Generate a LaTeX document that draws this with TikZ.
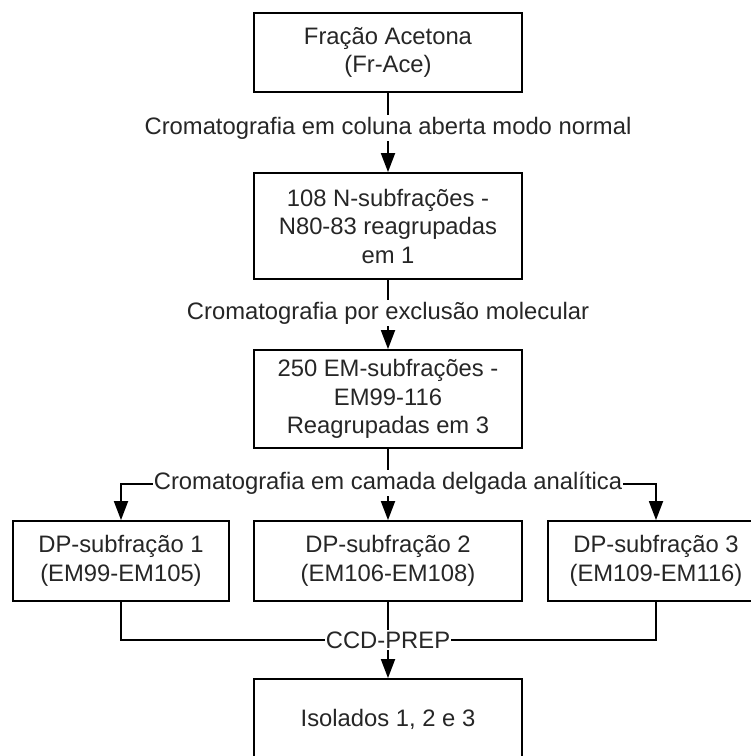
\documentclass[tikz,border=0pt]{standalone}
\usepackage{fontspec}
\setmainfont{Liberation Sans}
\usetikzlibrary{arrows.meta}
\definecolor{txt}{HTML}{262626}
\tikzset{
  box/.style={draw=black, line width=1.8pt, rectangle, align=center, text=txt,
    font=\fontsize{23.8}{28.5}\selectfont, inner sep=0pt},
  lbl/.style={fill=white, text=txt, font=\fontsize{23.8}{28.5}\selectfont,
    inner xsep=1pt, inner ysep=2pt},
  conn/.style={line width=1.8pt, draw=black},
  arr/.style={conn, -{Triangle[width=14pt,length=19pt]}}
}
\begin{document}
\begin{tikzpicture}[x=1pt, y=-1pt]
\useasboundingbox (0,0) rectangle (751,756);
\node[box, minimum width=268pt, minimum height=79pt] (b1) at (388,52.5) {Fração Acetona\\(Fr-Ace)};
\node[box, minimum width=268pt, minimum height=106pt] (b2) at (388,226) {108 N-subfrações -\\N80-83 reagrupadas\\em 1};
\node[box, minimum width=268pt, minimum height=98pt] (b3) at (388,399) {250 EM-subfrações -\\EM99-116\\Reagrupadas em 3};
\node[box, minimum width=216pt, minimum height=80pt] (dp1) at (121,561) {DP-subfração 1\\(EM99-EM105)};
\node[box, minimum width=268pt, minimum height=80pt] (dp2) at (388,561) {DP-subfração 2\\(EM106-EM108)};
\node[box, minimum width=216pt, minimum height=80pt] (dp3) at (656,561) {DP-subfração 3\\(EM109-EM116)};
\node[box, minimum width=268pt, minimum height=80pt] (b4) at (388,719) {Isolados 1, 2 e 3};
% connectors
\draw[arr] (b1.south) -- (b2.north);
\draw[arr] (b2.south) -- (b3.north);
\coordinate (c3) at (388,484);
\draw[arr] (b3.south) -- (dp2.north);
\draw[arr] (c3) -| (dp1.north);
\draw[arr] (c3) -| (dp3.north);
\coordinate (c4) at (388,640);
\draw[conn] (dp1.south) |- (c4);
\draw[conn] (dp3.south) |- (c4);
\draw[conn] (dp2.south) -- (c4);
\draw[arr] (c4) -- (b4.north);
% labels
\node[lbl] (l1) at (388,128) {Cromatografia em coluna aberta modo normal};
\node[lbl] (l2) at (388,313) {Cromatografia por exclusão molecular};
\node[lbl] (l3) at (388,483) {Cromatografia em camada delgada analítica};
\node[lbl] (l4) at (388,640) {CCD-PREP};
\end{tikzpicture}
\end{document}
